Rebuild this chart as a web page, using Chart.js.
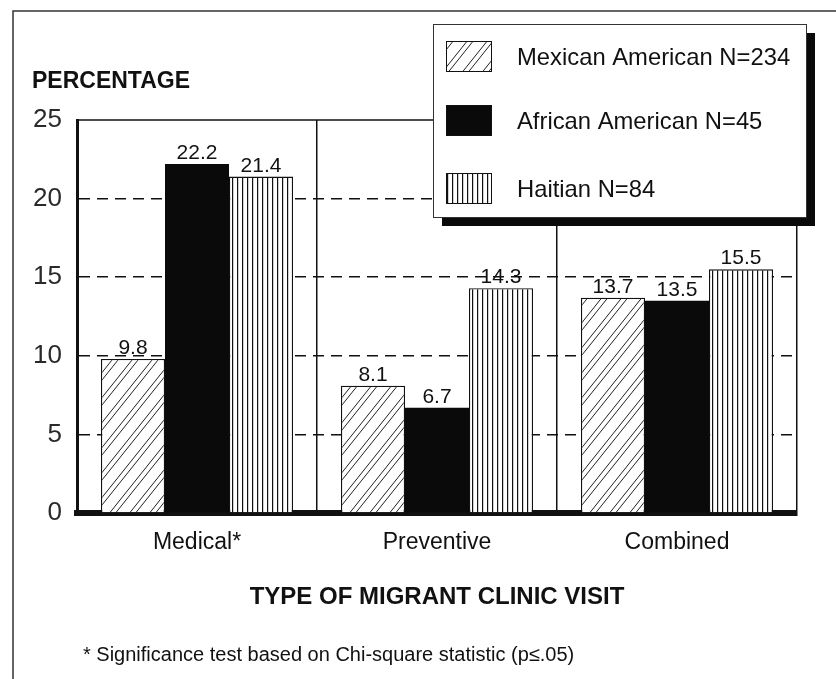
<!DOCTYPE html>
<html>
<head>
<meta charset="utf-8">
<script src="https://cdn.jsdelivr.net/npm/chart.js@4.4.1/dist/chart.umd.min.js"></script>
<style>
  html, body { margin: 0; padding: 0; background: #fff; }
  #wrap { width: 836px; height: 679px; position: relative; }
</style>
</head>
<body>
<div id="wrap"><canvas id="c" width="836" height="679"></canvas></div>
<script>
// Clinic visit rates by group (percent)
const categories = ['Medical*', 'Preventive', 'Combined'];
const seriesNames = ['Mexican American N=234', 'African American N=45', 'Haitian N=84'];
const mexicanAmerican = [9.8, 8.1, 13.7];
const africanAmerican = [22.2, 6.7, 13.5];
const haitian = [21.4, 14.3, 15.5];
const yTickValues = [0, 5, 10, 15, 20, 25];
const yAxisTitle = 'PERCENTAGE';
const xAxisTitle = 'TYPE OF MIGRANT CLINIC VISIT';
const footnote = '* Significance test based on Chi-square statistic (p\u2264.05)';

const FONT = '"Liberation Sans", Arial, Helvetica, sans-serif';
const INK = '#111';

// Paired diagonal hatching
function hatchPattern() {
  const w = 20, h = 25;
  const c = document.createElement('canvas');
  c.width = w; c.height = h;
  const g = c.getContext('2d');
  g.fillStyle = '#fff';
  g.fillRect(0, 0, w, h);
  g.strokeStyle = '#222';
  g.lineWidth = 1;
  for (const off of [0, 6]) {
    for (let k = -1; k <= 1; k++) {
      g.beginPath();
      g.moveTo(off + k * w, h);
      g.lineTo(off + k * w + w, 0);
      g.stroke();
    }
  }
  return g.createPattern(c, 'repeat');
}

// Fine vertical stripes
function stripePattern() {
  const w = 5, h = 10;
  const c = document.createElement('canvas');
  c.width = w; c.height = h;
  const g = c.getContext('2d');
  g.fillStyle = '#fff';
  g.fillRect(0, 0, w, h);
  g.fillStyle = INK;
  g.fillRect(2, 0, 1.2, h);
  return g.createPattern(c, 'repeat');
}

const fills = [hatchPattern(), '#0a0a0a', stripePattern()];

const decor = {
  id: 'decor',
  beforeDraw(chart) {
    const ctx = chart.ctx;
    ctx.save();
    ctx.fillStyle = '#fff';
    ctx.fillRect(0, 0, chart.width, chart.height);
    // outer frame
    ctx.strokeStyle = '#333';
    ctx.lineWidth = 1.5;
    ctx.beginPath();
    ctx.moveTo(13, chart.height);
    ctx.lineTo(13, 11);
    ctx.lineTo(chart.width, 11);
    ctx.stroke();
    ctx.restore();
  },
  afterDatasetsDraw(chart) {
    const ctx = chart.ctx;
    const area = chart.chartArea;
    ctx.save();
    // top edge of the plot frame
    ctx.strokeStyle = INK;
    ctx.lineWidth = 1.5;
    ctx.beginPath();
    ctx.moveTo(area.left, area.top);
    ctx.lineTo(area.right, area.top);
    ctx.stroke();
    // value labels above bars
    ctx.fillStyle = INK;
    ctx.font = '21px ' + FONT;
    ctx.textAlign = 'center';
    ctx.textBaseline = 'alphabetic';
    chart.data.datasets.forEach((ds, di) => {
      const meta = chart.getDatasetMeta(di);
      meta.data.forEach((bar, i) => {
        ctx.fillText(ds.data[i].toFixed(1), bar.x, bar.y - 5);
      });
    });
    ctx.restore();
  },
  afterDraw(chart) {
    const ctx = chart.ctx;
    ctx.save();
    ctx.fillStyle = INK;
    ctx.textAlign = 'left';
    ctx.textBaseline = 'alphabetic';
    ctx.font = 'bold 23px ' + FONT;
    ctx.fillText(yAxisTitle, 32, 88);
    ctx.font = '20px ' + FONT;
    ctx.textBaseline = 'middle';
    ctx.fillText(footnote, 83, 655);

    // legend box with drop shadow
    const L = { x: 433, y: 24, w: 373, h: 193 };
    ctx.fillStyle = '#0a0a0a';
    ctx.fillRect(L.x + 9, L.y + 9, L.w, L.h);
    ctx.fillStyle = '#fff';
    ctx.fillRect(L.x, L.y, L.w, L.h);
    ctx.strokeStyle = '#333';
    ctx.lineWidth = 1;
    ctx.strokeRect(L.x + 0.5, L.y + 0.5, L.w, L.h);
    const rows = [56, 120, 188];
    chart.data.datasets.forEach((ds, i) => {
      const cy = rows[i];
      ctx.fillStyle = ds.backgroundColor;
      ctx.fillRect(446, cy - 15, 45, 30);
      ctx.strokeStyle = INK;
      ctx.lineWidth = 1;
      ctx.strokeRect(446.5, cy - 14.5, 45, 30);
      ctx.fillStyle = INK;
      ctx.font = '23.8px ' + FONT;
      ctx.textAlign = 'left';
      ctx.textBaseline = 'middle';
      ctx.fillText(ds.label, 517, cy + 2);
    });
    ctx.restore();
  }
};

new Chart(document.getElementById('c'), {
  type: 'bar',
  data: {
    labels: categories,
    datasets: [
      { label: seriesNames[0], data: mexicanAmerican, backgroundColor: fills[0], borderColor: INK, borderWidth: 1.3 },
      { label: seriesNames[1], data: africanAmerican, backgroundColor: fills[1], borderColor: fills[1], borderWidth: 0 },
      { label: seriesNames[2], data: haitian, backgroundColor: fills[2], borderColor: INK, borderWidth: 1.3 }
    ]
  },
  options: {
    responsive: false,
    animation: false,
    devicePixelRatio: 1,
    layout: { padding: { top: 120, right: 39, left: 0, bottom: 0 } },
    datasets: { bar: { categoryPercentage: 0.8, barPercentage: 1 } },
    plugins: { legend: { display: false }, tooltip: { enabled: false } },
    scales: {
      x: {
        grid: { color: INK, lineWidth: 1.5, drawTicks: false, offset: true },
        border: { color: INK, width: 6 },
        ticks: { font: { family: FONT, size: 23 }, color: INK, padding: 16 },
        title: {
          display: true, text: xAxisTitle, color: INK,
          font: { family: FONT, size: 24, weight: 'bold' },
          padding: { top: 0, bottom: 67 }
        },
        afterFit(s) { s.height = 166; }
      },
      y: {
        min: 0, max: 25,
        afterBuildTicks(s) { s.ticks = yTickValues.map(v => ({ value: v })); },
        ticks: { font: { family: FONT, size: 26 }, color: '#2a2a2a', padding: 15 },
        grid: {
          color: ctx => (ctx.tick && (ctx.tick.value === 0 || ctx.tick.value === 25)) ? 'rgba(0,0,0,0)' : INK,
          lineWidth: 1.5, drawTicks: false
        },
        border: { color: INK, width: 3, dash: [11, 7] },
        afterFit(s) { s.width = 77; }
      }
    }
  },
  plugins: [decor]
});
</script>
</body>
</html>
